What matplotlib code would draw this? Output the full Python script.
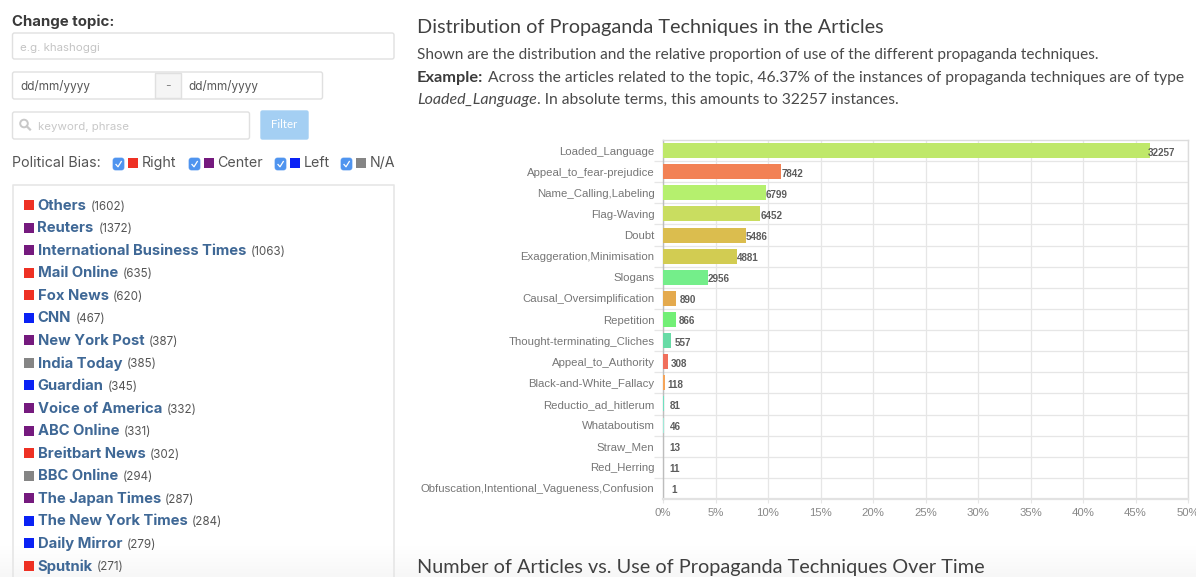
"""Propaganda dashboard screenshot: filter sidebar plus technique distribution bars."""
import numpy as np
import matplotlib
matplotlib.use("Agg")
import matplotlib.pyplot as plt
from matplotlib.patches import Rectangle, FancyBboxPatch, Circle
from matplotlib.ticker import FuncFormatter, FixedLocator

W, H = 1196, 577
UI_FONT = ["Inter", "DejaVu Sans"]
BODY_FONT = ["Lato", "DejaVu Sans"]
CHART_FONT = ["Liberation Sans", "DejaVu Sans"]

techniques = ["Loaded_Language", "Appeal_to_fear-prejudice", "Name_Calling,Labeling",
              "Flag-Waving", "Doubt", "Exaggeration,Minimisation", "Slogans",
              "Causal_Oversimplification", "Repetition", "Thought-terminating_Cliches",
              "Appeal_to_Authority", "Black-and-White_Fallacy", "Reductio_ad_hitlerum",
              "Whataboutism", "Straw_Men", "Red_Herring",
              "Obfuscation,Intentional_Vagueness,Confusion"]
counts = [32257, 7842, 6799, 6452, 5486, 4881, 2956, 890, 866, 557, 308, 118, 81, 46, 13, 11, 1]
bar_colors = ["#bfe86a", "#f28154", "#b5f06e", "#c9dd60", "#dbbd4e", "#d2cc52", "#74ee8a",
              "#e4aa4e", "#72ef76", "#68dba6", "#f06f5c", "#f5a55a", "#6fe0c0", "#a0e8d8",
              "#e0c070", "#90e090", "#e09070"]
pct_ticks = [0, 5, 10, 15, 20, 25, 30, 35, 40, 45, 50]

outlets = ["Others", "Reuters", "International Business Times", "Mail Online", "Fox News",
           "CNN", "New York Post", "India Today", "Guardian", "Voice of America", "ABC Online",
           "Breitbart News", "BBC Online", "The Japan Times", "The New York Times",
           "Daily Mirror", "Sputnik"]
outlet_counts = [1602, 1372, 1063, 635, 620, 467, 387, 385, 345, 332, 331, 302, 294, 287, 284, 279, 271]
outlet_bias = ["Right", "Center", "Center", "Right", "Right", "Left", "Center", "N/A", "Left",
               "Center", "Center", "Right", "N/A", "Center", "Left", "Left", "Right"]
bias_colors = {"Right": "#ee3124", "Center": "#751a7e", "Left": "#0a22f5", "N/A": "#858585"}

BORDER = "#e0e0e0"
TEXT = "#4a4a4a"
LINK = "#3f6896"
GRID = "#e6e6e6"


def px(size):
    return size * 0.72


fig = plt.figure(figsize=(W / 100, H / 100), dpi=100, facecolor="white")

# ---- chart
x0, x1, y0, y1 = 663, 1188, 140, 499
ax = fig.add_axes([x0 / W, 1 - y1 / H, (x1 - x0) / W, (y1 - y0) / H])
total = sum(counts)
pcts = [c / total * 100 for c in counts]
ypos = np.arange(len(techniques))
ax.barh(ypos, pcts, height=0.71, color=bar_colors, zorder=3)
ax.set_xlim(0, 50)
ax.set_ylim(len(techniques) - 0.5, -0.5)
ax.set_yticks(ypos)
ax.set_yticklabels(techniques, fontfamily=CHART_FONT, fontsize=px(11.4), color="#767676")
ax.set_xticks(pct_ticks)
ax.xaxis.set_major_formatter(FuncFormatter(lambda v, _: f"{v:.0f}%"))
ax.yaxis.set_minor_locator(FixedLocator(ypos[:-1] + 0.5))
ax.tick_params(axis="y", which="major", length=0, pad=px(8.5))
ax.tick_params(axis="y", which="minor", length=px(9), width=0.9, color=GRID)
ax.tick_params(axis="x", length=px(4), width=0.8, color=GRID, pad=px(5),
               labelsize=px(11.4), labelcolor="#888888")
for lab in ax.get_xticklabels():
    lab.set_fontfamily(CHART_FONT)
ax.grid(True, axis="x", color=GRID, lw=0.9, zorder=0)
ax.grid(True, axis="y", which="minor", color=GRID, lw=0.9, zorder=0)
ax.set_axisbelow(True)
for side, spine in ax.spines.items():
    spine.set_color("#dcdcdc")
    spine.set_linewidth(1.0)
ax.spines["left"].set_color("#bdbdbd")
ax.spines["bottom"].set_color("#e2e2e2")
ax.spines["bottom"].set_linewidth(1.6)

# label offset depends on digit count, same as the original chart plugin
label_dx = {5: -2, 4: 0, 3: 3, 2: 6, 1: 8.5}
for i, (p, c) in enumerate(zip(pcts, counts)):
    ax.annotate(str(c), (p, i), xytext=(px(label_dx[len(str(c))]), -px(2)),
                textcoords="offset points", ha="left", va="center", zorder=5,
                fontfamily=CHART_FONT, fontsize=px(9.9), fontweight="bold", color="#5c5c5c")

# ---- page overlay in pixel coordinates
ui = fig.add_axes([0, 0, 1, 1], zorder=10)
ui.set_xlim(0, W)
ui.set_ylim(H, 0)
ui.axis("off")
ui.patch.set_alpha(0)


def box(x, y, w, h, fc="white", ec=BORDER, lw=1.0, r=2):
    ui.add_patch(FancyBboxPatch((x + r, y + r), w - 2 * r, h - 2 * r,
                                boxstyle=f"round,pad={r}", fc=fc, ec=ec, lw=lw))


def txt(x, y, s, size, color=TEXT, family=UI_FONT, **kw):
    kw.setdefault("va", "center")
    return ui.text(x, y + 1, s, fontsize=px(size), color=color, fontfamily=family, **kw)


def run_width(t):
    return t.get_window_extent(fig.canvas.get_renderer()).width


txt(12.5, 21, "Change topic:", 15, "#3a3a3a", fontweight="bold")
box(12.5, 33, 381.5, 26)
txt(19.5, 47, "e.g. khashoggi", 11.5, "#c4c4c4")

box(12.5, 72, 310, 27)
ui.add_patch(Rectangle((154.5, 73), 26, 25, fc="#f5f5f5", ec=BORDER, lw=1.0))
txt(20, 85.5, "dd/mm/yyyy", 11.7, "#555555")
txt(167.5, 85.5, "-", 12, "#888888", ha="center")
txt(188, 85.5, "dd/mm/yyyy", 11.7, "#555555")

box(12.5, 112, 237, 27)
ui.add_patch(Circle((24, 123.5), 3.8, fc="none", ec="#c8c8c8", lw=1.4))
ui.plot([26.8, 30], [126.3, 129.5], color="#c8c8c8", lw=1.6)
txt(38.5, 125.5, "keyword, phrase", 11.5, "#c8c8c8")
box(261, 111, 47, 28, fc="#a4cff3", ec="#a4cff3", r=1.5)
txt(284.5, 124, "Filter", 11.5, "white", family=BODY_FONT, ha="center")

txt(12.5, 162, "Political Bias:", 14.2, "#555555")
bias_items = ["Right", "Center", "Left", "N/A"]
check_x = [113, 189, 275, 341]
for name, cx in zip(bias_items, check_x):
    box(cx, 158, 11, 12, fc="#4f94ef", ec="#4f94ef", r=2.5, lw=0.5)
    ui.plot([cx + 3, cx + 5, cx + 8.3], [164.5, 166.8, 161.5], color="white", lw=0.9)
    ui.add_patch(Rectangle((cx + 15, 158), 9.5, 9.5, fc=bias_colors[name], ec="none"))
    txt(cx + 28.5, 162, name, 14.2, "#555555")

# outlet list
ui.plot([13, 13, 394, 394], [H + 5, 185, 185, H + 5], color="#e6e6e6", lw=1.2)
row0, row_h = 205, 22.56
for i, (name, n, bias) in enumerate(zip(outlets, outlet_counts, outlet_bias)):
    y = row0 + i * row_h
    ui.add_patch(Rectangle((24, y - 5), 10, 10, fc=bias_colors[bias], ec="none"))
    t = txt(37.5, y - 0.5, name, 14.8, LINK, fontweight="bold")
    txt(37.5 + run_width(t) + 4.5, y + 0.5, f"({n})", 11.6, "#555555")

# right hand copy
txt(417, 27, "Distribution of Propaganda Techniques in the Articles", 19.9, "#404040", family=BODY_FONT)
txt(417, 54, "Shown are the distribution and the relative proportion of use of the different propaganda techniques.",
    15.45, TEXT, family=BODY_FONT)
t = txt(417, 77, "Example:", 16.4, "#3c3c3c", family=BODY_FONT, fontweight="bold")
txt(417 + run_width(t) + 4.5, 77,
    "Across the articles related to the topic, 46.37% of the instances of propaganda techniques are of type",
    15.6, TEXT, family=BODY_FONT)
t = txt(417, 99, "Loaded_Language", 16, TEXT, family=BODY_FONT, style="italic")
txt(417 + run_width(t), 99, ". In absolute terms, this amounts to 32257 instances.", 15.6, TEXT, family=BODY_FONT)
txt(417, 566, "Number of Articles vs. Use of Propaganda Techniques Over Time", 19.85, "#404040", family=BODY_FONT)

# faint fade along the bottom edge of the screenshot, behind the text
fade = np.zeros((32, 2, 4))
fade[..., :3] = 0.9
fade[..., 3] = np.linspace(0, 0.3, 32)[:, None]
ui.imshow(fade, extent=(0, W, H, H - 32), aspect="auto", zorder=0.5)
ui.set_xlim(0, W)
ui.set_ylim(H, 0)

fig.savefig("out.png", dpi=100, facecolor="white")
